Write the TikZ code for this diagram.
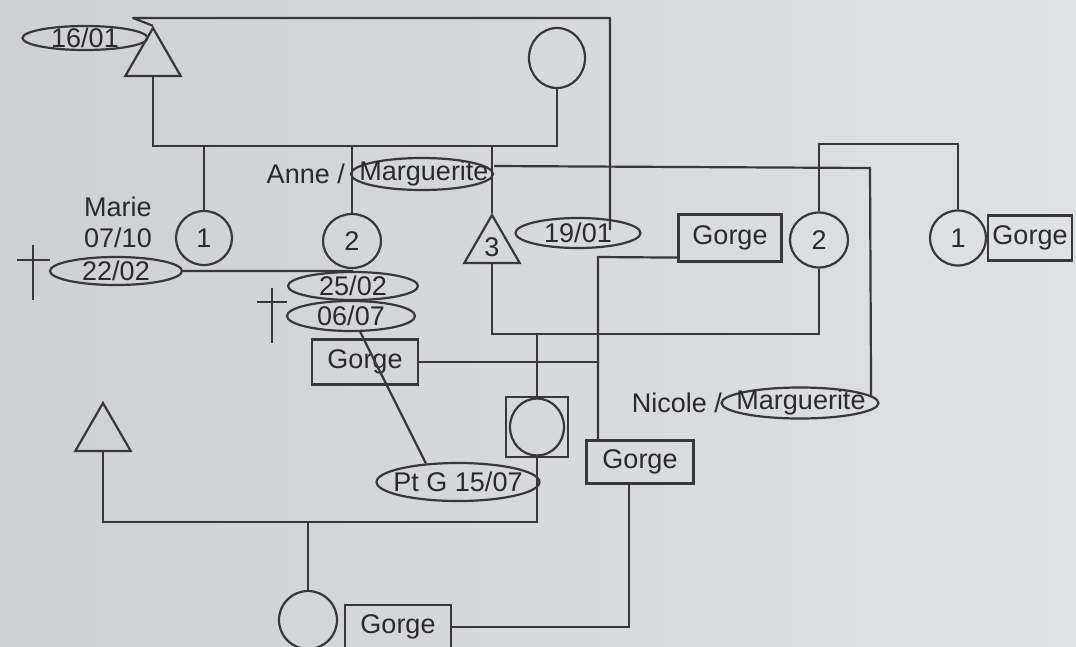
\documentclass[tikz,border=0pt]{standalone}
\usepackage{fontspec}
\setmainfont{Liberation Sans}
\usetikzlibrary{shapes.geometric}
\definecolor{linec}{HTML}{38383A}
\definecolor{textc}{HTML}{2A2A2C}
\definecolor{bgL}{HTML}{CFD0D3}
\definecolor{bgR}{HTML}{E0E1E4}
\tikzset{
  ln/.style={draw=linec, line width=2.2pt},
  lbl/.style={text=textc, font=\fontsize{27}{30}\selectfont, inner sep=0pt},
  dateell/.style={ellipse, draw=linec, line width=2.2pt, inner sep=0pt},
  person/.style={ellipse, draw=linec, line width=2.2pt, inner sep=0pt, text=textc, font=\fontsize{27}{30}\selectfont},
  male/.style={regular polygon, regular polygon sides=3, draw=linec, line width=2.2pt, inner sep=0pt, text=textc, font=\fontsize{27}{30}\selectfont},
  namebox/.style={rectangle, draw=linec, line width=2.2pt, inner sep=0pt, text=textc, font=\fontsize{27}{30}\selectfont},
}
\begin{document}
\begin{tikzpicture}[x=1pt,y=-1pt]
\useasboundingbox (0,0) rectangle (1076,646);
\clip (0,0) rectangle (1076,646);
\fill[left color=bgL, right color=bgR] (0,0) rectangle (1076,646);

% top generation
\node[dateell, minimum width=125, minimum height=24] (d1601) at (85,38) {};
\node[lbl] (d1601t) at (85,38) {16/01};
\node[male, minimum size=64] (tA) at (153,60) {};
\node[person, minimum width=56, minimum height=60] (cB) at (557,58) {};

% second generation
\node[lbl] (marie) at (118,207) {Marie};
\node[lbl] (d0710) at (118,238) {07/10};
\node[person, minimum width=56, minimum height=54] (c1) at (204,238) {1};
\node[person, minimum width=58, minimum height=54] (c2) at (352,241) {2};
\node[lbl, anchor=east] (anne) at (345,174) {Anne /};
\node[dateell, minimum width=142, minimum height=32] (mA) at (422,174) {};
\node[lbl] (mAt) at (424,174) {Marguerite};
\node[male, minimum size=64] (t3) at (492,247) {3};
\node[dateell, minimum width=125, minimum height=30] (d1901) at (578,233) {};
\node[lbl] (d1901t) at (578,233) {19/01};
\node[namebox, minimum width=103, minimum height=47] (gB) at (730,238) {Gorge};
\node[person, minimum width=58, minimum height=55] (c2R) at (819,240) {2};
\node[person, minimum width=56, minimum height=55] (c1R) at (958,238) {1};
\node[namebox, minimum width=84, minimum height=45] (gC) at (1030,238) {Gorge};

\node[dateell, minimum width=132, minimum height=28] (d2202) at (116,271) {};
\node[lbl] (d2202t) at (116,271) {22/02};
\node[dateell, minimum width=130, minimum height=28] (d2502) at (353,286) {};
\node[lbl] (d2502t) at (353,286) {25/02};
\node[dateell, minimum width=128, minimum height=30] (d0607) at (351,316) {};
\node[lbl] (d0607t) at (351,316) {06/07};
\node[namebox, minimum width=106, minimum height=45] (gA) at (365,362) {Gorge};

% crosses
\draw[ln] (33,245) -- (33,300) (17,260) -- (50,260);
\draw[ln] (272,288) -- (272,343) (257,302) -- (287,302);

% third generation
\node[lbl, anchor=east] (nicole) at (722,403) {Nicole /};
\node[dateell, minimum width=157, minimum height=31] (mN) at (800,403) {};
\node[lbl] (mNt) at (801,403) {Marguerite};
\node[rectangle, draw=linec, line width=2.2pt, minimum width=62, minimum height=60, inner sep=0pt] (sq) at (537,427) {};
\node[person, minimum width=54, minimum height=57] (sqc) at (537,427) {};
\node[male, minimum size=64] (tL) at (103,435) {};
\node[dateell, minimum width=163, minimum height=38] (ptg) at (458,482) {};
\node[lbl] (ptgt) at (458,482) {Pt G 15/07};
\node[namebox, minimum width=107, minimum height=43] (gN) at (640,462) {Gorge};

% fourth generation
\node[person, minimum width=58, minimum height=58] (cD) at (308,620) {};
\node[namebox, minimum width=106, minimum height=44] (gD) at (398,627) {Gorge};

% junction coordinates
\coordinate (tl) at (133,18);
\coordinate (tr) at (610,18);
\coordinate (te) at (610,230);
\coordinate (nr) at (870,168);
\coordinate (br) at (958,144);
\coordinate (jx) at (598,257);
\coordinate (kx) at (629,627);

% connectors
\draw[ln, line join=round] (tA.north) -- (tl) -- (tr) -- (te);
\draw[ln] (tA.south) -- ++(0,69) coordinate (mAB) -| (cB.south);
\draw[ln] (c1.north |- mAB) -- (c1.north);
\draw[ln] (c2.north |- mAB) -- (c2.north);
\draw[ln] (t3.north |- mAB) -- (t3.north);
\draw[ln] ([yshift=8pt]mA.east) -- (nr) -- (mN.6);
\draw[ln] (c2R.north) |- (br) -- (c1R.north);
\draw[ln] (t3.south) -- ++(0,70) coordinate (m3) -| (c2R.south);
\draw[ln] (sq.north) -- (sq.north |- m3);
\draw[ln] ([yshift=5pt]gB.south west) -- (jx) -- (jx |- gN.north);
\draw[ln] (gA.east) -- (gA.east -| jx);
\draw[ln] (d2202.east) -- (d2502.north);
\draw[ln] (d0607.-60) -- (ptg.150);
\draw[ln] (tL.south) -- ++(0,70) coordinate (mL) -| (sq.south);
\draw[ln] (cD.north |- mL) -- (cD.north);
\draw[ln] (gD.east) -- (kx) -- (kx |- gN.south);
\end{tikzpicture}
\end{document}
